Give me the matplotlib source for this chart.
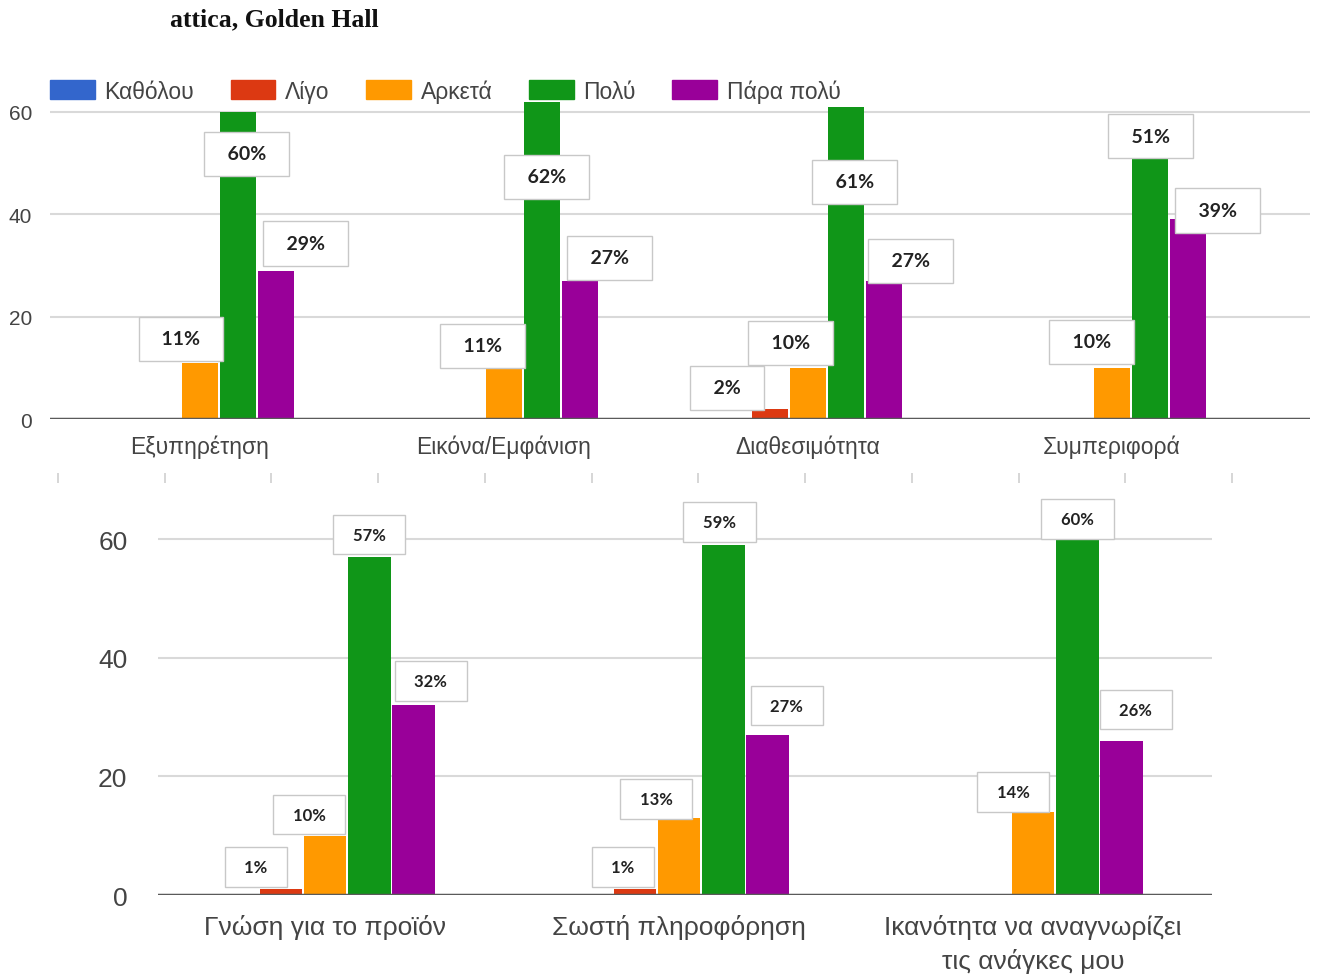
import matplotlib
matplotlib.use('Agg')
import matplotlib.pyplot as plt
from matplotlib.patches import Patch
import numpy as np

series = ['Καθόλου', 'Λίγο', 'Αρκετά', 'Πολύ', 'Πάρα πολύ']
colors = ['#3366cc', '#dc3912', '#ff9900', '#109618', '#990099']

cats_top = ['Εξυπηρέτηση', 'Εικόνα/Εμφάνιση', 'Διαθεσιμότητα', 'Συμπεριφορά']
top_kathol = [0, 0, 0, 0]
top_ligo = [0, 0, 2, 0]
top_arketa = [11, 11, 10, 10]
top_poly = [60, 62, 61, 51]
top_para = [29, 27, 27, 39]

cats_bot = ['Γνώση για το προϊόν', 'Σωστή πληροφόρηση',
            'Ικανότητα να αναγνωρίζει\nτις ανάγκες μου']
bot_kathol = [0, 0, 0]
bot_ligo = [1, 1, 0]
bot_arketa = [10, 13, 14]
bot_poly = [57, 59, 60]
bot_para = [32, 27, 26]

# callout offsets in pixels from the bar top, keyed by (group, series)
top_offsets = {
    (0, 2): (-19, 24), (0, 3): (9, -42), (0, 4): (30, 27),
    (1, 2): (-21, 17), (1, 3): (5, -75), (1, 4): (30, 23),
    (2, 1): (-43, 21), (2, 2): (-17, 25), (2, 3): (9, -75), (2, 4): (27, 20),
    (3, 2): (-20, 26), (3, 3): (1, 22), (3, 4): (30, 9),
}
bot_offsets = {
    (0, 1): (-25, 22), (0, 2): (-16, 21), (0, 3): (0, 22), (0, 4): (17, 24),
    (1, 1): (-12, 22), (1, 2): (-23, 19), (1, 3): (-4, 23), (1, 4): (19, 29),
    (2, 2): (-20, 20), (2, 3): (0, 20), (2, 4): (14, 31),
}

W, H = 1317, 979
TXT = '#444444'
STEP, BW = 0.125, 0.12

fig = plt.figure(figsize=(W / 100, H / 100), dpi=100)


def panel(rect, cats, data, offsets, xlim, ytop, tick_fs, cat_fs, lab_fs, pad, ypad, xpad):
    ax = fig.add_axes(rect)
    x = np.arange(len(cats))
    for i, vals in enumerate(data):
        pos = x + (i - 2) * STEP
        ax.bar(pos, vals, width=BW, color=colors[i], zorder=2)
        for g, v in enumerate(vals):
            if v <= 0:
                continue
            dx, dy = offsets[(g, i)]
            ax.annotate(f'  {v}%  ', xy=(pos[g], v), xytext=(dx, dy),
                        textcoords='offset pixels', ha='center', va='center',
                        fontsize=lab_fs, fontweight='bold', family='Lato',
                        color='#222222', annotation_clip=False, zorder=5,
                        bbox=dict(boxstyle=f'square,pad={pad}', fc='white',
                                  ec='#c8c8c8', lw=1.0))
    ax.set_xlim(*xlim)
    ax.set_ylim(0, ytop)
    ax.set_yticks([0, 20, 40, 60])
    ax.set_xticks(x)
    ax.set_xticklabels(cats, fontsize=cat_fs, color=TXT, family='Liberation Sans',
                       linespacing=1.45)
    for lab in ax.get_yticklabels():
        lab.set_fontsize(tick_fs)
        lab.set_color(TXT)
        lab.set_family('Liberation Sans')
    ax.tick_params(axis='both', length=0)
    ax.tick_params(axis='y', pad=ypad)
    ax.tick_params(axis='x', pad=xpad)
    for s in ax.spines.values():
        s.set_visible(False)
    ax.grid(axis='y', color='#d9d9d9', lw=1.5, zorder=0)
    ax.set_axisbelow(True)
    ax.axhline(0, color='#5a5a5a', lw=2.5, zorder=3)
    return ax


top_data = [top_kathol, top_ligo, top_arketa, top_poly, top_para]
bot_data = [bot_kathol, bot_ligo, bot_arketa, bot_poly, bot_para]

# top panel: 0 at y=420px, 5.117 px per unit, 304 px per group
ax1 = panel([50 / W, 1 - 420 / H, 1260 / W, 62 * 5.117 / H], cats_top, top_data,
            top_offsets, (-0.493, 3.652), 62, 15, 16.5, 14, 0.7, 13, 11)
# bottom panel: 0 at y=896px, 5.933 px per unit, 354 px per group
ax2 = panel([158 / W, 1 - 896 / H, 1054 / W, 61 * 5.933 / H], cats_bot, bot_data,
            bot_offsets, (-0.472, 2.505), 61, 19, 19, 12, 0.7, 22, 14)

# faint tick strip between the two panels
axt = fig.add_axes([58 / W, 1 - 474 / H, (1232 - 58) / W, 0.0001])
axt.set_xlim(0, 11)
axt.set_xticks(range(12))
axt.set_yticks([])
axt.tick_params(axis='x', length=7, width=1.2, color='#cfcfcf', labelbottom=False)
for s in axt.spines.values():
    s.set_visible(False)

handles = [Patch(color=c, label=s) for c, s in zip(colors, series)]
fig.legend(handles=handles, loc='center left', bbox_to_anchor=(50 / W, 1 - 92 / H),
           ncol=5, frameon=False, handlelength=1.95, handleheight=0.9,
           handletextpad=0.42, columnspacing=1.6, borderpad=0, borderaxespad=0,
           labelcolor=TXT, prop={'family': 'Liberation Sans', 'size': 16.5})

fig.text(170 / W, 1 - 20 / H, 'attica, Golden Hall', fontsize=18.5, fontweight='bold',
         family='Liberation Serif', color='#111111', ha='left', va='center')

fig.savefig('out.png', dpi=100, facecolor='white')
